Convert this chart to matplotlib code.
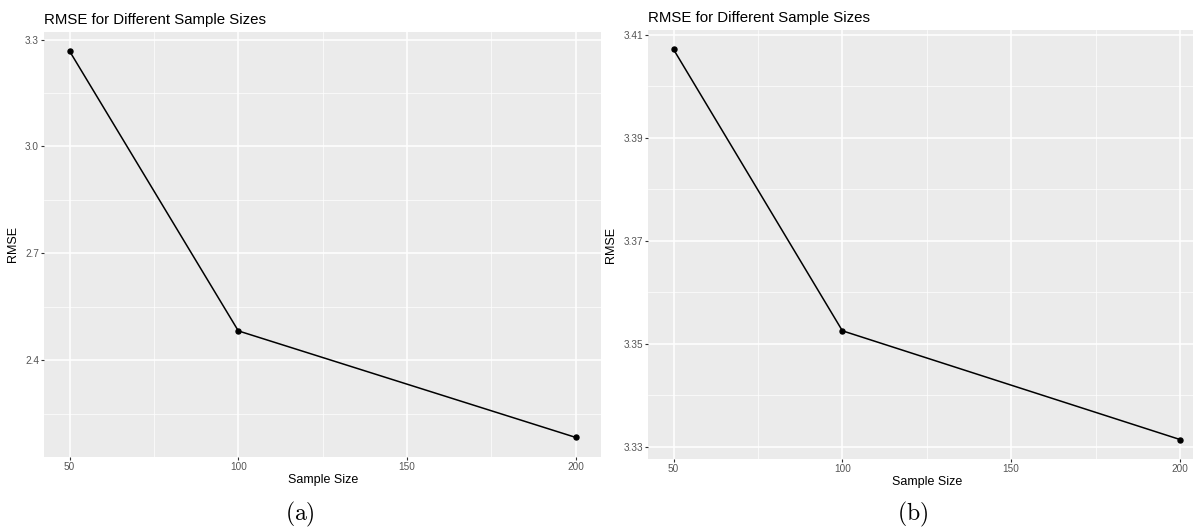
import matplotlib
matplotlib.use("Agg")
import matplotlib.pyplot as plt
import numpy as np

# Datos
tamanos = [50, 100, 200]
rmse_a = [3.267, 2.482, 2.183]
rmse_b = [3.4071, 3.3525, 3.3314]

x_ticks = [50, 100, 150, 200]
x_minor = [75, 125, 175]
y_ticks_a = [2.4, 2.7, 3.0, 3.3]
y_minor_a = [2.25, 2.55, 2.85, 3.15]
y_ticks_b = [3.33, 3.35, 3.37, 3.39, 3.41]
y_minor_b = [3.34, 3.36, 3.38, 3.40]

titulo = "RMSE for Different Sample Sizes"

plt.rcParams["font.family"] = ["Liberation Sans", "DejaVu Sans"]
plt.rcParams["mathtext.fontset"] = "cm"

fig = plt.figure(figsize=(11.93, 5.29), dpi=100)
ax_a = fig.add_axes([0.0372, 0.1367, 0.4665, 0.8028])
ax_b = fig.add_axes([0.5434, 0.1323, 0.4669, 0.8110])


def expandir(vals, frac=0.05):
    lo, hi = min(vals), max(vals)
    d = (hi - lo) * frac
    return lo - d, hi + d


def panel(ax, y, yt, ym, ylab_x, xlab_y):
    ax.set_facecolor("#EBEBEB")
    for s in ax.spines.values():
        s.set_visible(False)
    ax.set_xlim(*expandir(tamanos))
    ax.set_ylim(*expandir(y))
    ax.set_xticks(x_ticks)
    ax.set_xticks(x_minor, minor=True)
    ax.set_yticks(yt)
    ax.set_yticks(ym, minor=True)
    ax.set_yticklabels([f"{v:g}" if len(str(v)) > 3 else f"{v:.1f}" for v in yt])
    ax.grid(True, which="major", color="white", linewidth=1.1)
    ax.grid(True, which="minor", color="white", linewidth=0.5)
    ax.set_axisbelow(True)
    ax.tick_params(which="major", length=2.3, width=0.8, color="#333333",
                   labelsize=7.2, labelcolor="#555555", pad=1.5)
    ax.tick_params(which="minor", length=0)
    ax.plot(tamanos, y, color="black", linewidth=1.1, marker="o", markersize=3.6)
    ax.set_title(titulo, loc="left", fontsize=10.8, pad=5.5)
    ax.set_xlabel("Sample Size", fontsize=9)
    ax.set_ylabel("RMSE", fontsize=9)
    ax.yaxis.set_label_coords(ylab_x, 0.5)
    ax.xaxis.set_label_coords(0.5, xlab_y)


panel(ax_a, rmse_a, y_ticks_a, y_minor_a, -0.045, -0.041)
panel(ax_b, rmse_b, y_ticks_b, y_minor_b, -0.057, -0.040)

fig.text(300 / 1193, 1 - 514 / 529, r"$\mathrm{(a)}$", fontsize=17, ha="center", va="center")
fig.text(913 / 1193, 1 - 514 / 529, r"$\mathrm{(b)}$", fontsize=17, ha="center", va="center")

fig.savefig("out.png", dpi=100)
